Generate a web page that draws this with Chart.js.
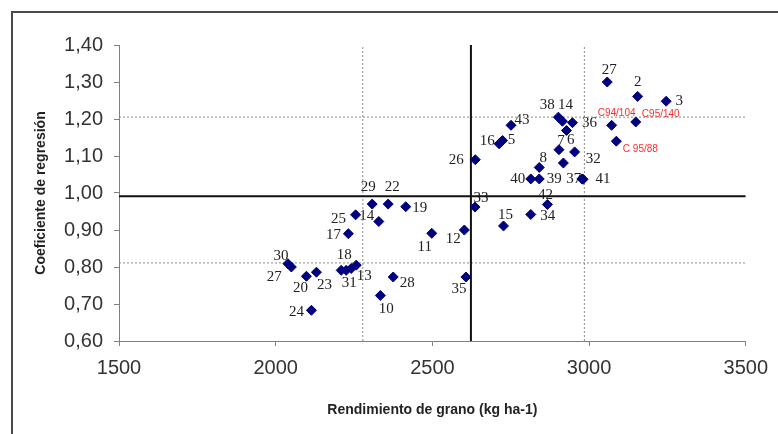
<!DOCTYPE html>
<html>
<head>
<meta charset="utf-8">
<script src="https://cdn.jsdelivr.net/npm/chart.js@4.4.1/dist/chart.umd.min.js"></script>
<style>
  html, body { margin: 0; padding: 0; background: #fff; }
</style>
</head>
<body>
<canvas id="chart" width="778" height="434"></canvas>
<script>
/* ===== DATA ===== */
// genotype ids (empty = point drawn without a tag)
const ids = [
  "29", "22", "19", "25", "14", "17", "11", "12", "33", "30",
  "27", "20", "23", "18", "31", "", "13", "28", "10", "24",
  "35", "27", "2", "3", "38", "14", "36", "", "43", "16",
  "5", "26", "7", "6", "32", "8", "40", "39", "37", "41",
  "42", "34", "15",
];
// grain yield, kg ha-1
const yieldKg = [
  2308, 2359, 2415, 2255, 2329, 2232, 2498, 2602, 2636, 2039,
  2050, 2098, 2130, 2209, 2225, 2241, 2257, 2375, 2334, 2114,
  2607, 3058, 3155, 3246, 2902, 2915, 2947, 2928, 2751, 2713,
  2724, 2637, 2904, 2954, 2918, 2841, 2814, 2841, 2977, 2981,
  2867, 2814, 2727,
];
// regression coefficient
const coef = [
  0.970, 0.970, 0.963, 0.941, 0.923, 0.890, 0.891, 0.900, 0.962, 0.809,
  0.800, 0.775, 0.786, 0.791, 0.791, 0.796, 0.805, 0.773, 0.723, 0.683,
  0.773, 1.300, 1.261, 1.248, 1.205, 1.194, 1.190, 1.169, 1.183, 1.133,
  1.142, 1.090, 1.117, 1.111, 1.081, 1.069, 1.038, 1.038, 1.038, 1.037,
  0.969, 0.942, 0.911,
];

// check varieties
const checkIds = ["C94/104", "C95/140", "C 95/88"];
const checkYield = [3072, 3149, 3087];
const checkCoef = [1.183, 1.192, 1.140];

// mean lines and +/- limits
const meanYield = 2623;
const meanCoef = 0.991;
const limitYield = [2278, 2985];
const limitCoef = [0.811, 1.205];

const X_MIN = 1500, X_MAX = 3500, X_STEP = 500;
const Y_MIN = 0.6, Y_MAX = 1.4, Y_STEP = 0.1;

/* ===== LABEL PLACEMENT (px from the point) ===== */
const idShift = [
  [-4, -17], [4, -17], [14, 1], [-17, 4], [-12, -5], [-15, 1], [-7, 14], [-11, 9], [6, -9], [-7, -8],
  [-17, 10], [-6, 12], [8, 13], [3, -15], [3, 13], [0, 0], [8, 11], [14, 6], [6, 14], [-15, 2],
  [-7, 12], [2, -12], [0, -14], [13, 0], [-11, -12], [3, -16], [17, 0], [0, 0], [11, -5], [-12, -3],
  [9, 0], [-19, 0], [2, -9], [-4, -12], [30, -4], [4, -9], [-13, 0], [15, 0], [-8, 0], [20, 0],
  [-2, -9], [17, 2], [2, -11],
];
const checkShift = [[5, -12], [25, -8], [24, 8]];

/* ===== HELPERS ===== */
function vLine(x, dashed) {
  return {
    type: "line",
    data: [{ x, y: Y_MIN }, { x, y: Y_MAX }],
    borderColor: dashed ? "#8a8a8a" : "#111",
    borderWidth: dashed ? 1 : 2,
    borderDash: dashed ? [2, 2] : [],
    pointRadius: 0,
  };
}
function hLine(y, dashed) {
  return {
    type: "line",
    data: [{ x: X_MIN, y }, { x: X_MAX, y }],
    borderColor: dashed ? "#8a8a8a" : "#111",
    borderWidth: dashed ? 1 : 2,
    borderDash: dashed ? [2, 2] : [],
    pointRadius: 0,
  };
}

/* ===== PLUGINS ===== */
const framePlugin = {
  id: "frame",
  beforeDraw(chart) {
    const c = chart.ctx;
    c.save();
    c.fillStyle = "#fff";
    c.fillRect(0, 0, chart.width, chart.height);
    c.strokeStyle = "#4a4a4a";
    c.lineWidth = 2;
    c.beginPath();
    c.moveTo(12, chart.height);
    c.lineTo(12, 12);
    c.lineTo(chart.width, 12);
    c.stroke();
    c.restore();
  },
};

const tagPlugin = {
  id: "tags",
  beforeDatasetsDraw(chart) {
    const c = chart.ctx;
    const xs = chart.scales.x;
    const ys = chart.scales.y;
    c.save();
    c.textAlign = "center";
    c.textBaseline = "middle";

    c.font = '15px "Liberation Serif", "Times New Roman", serif';
    c.fillStyle = "#222";
    ids.forEach((id, i) => {
      if (!id) return;
      const px = xs.getPixelForValue(yieldKg[i]) + idShift[i][0];
      const py = ys.getPixelForValue(coef[i]) + idShift[i][1];
      c.fillText(id, px, py);
    });

    c.font = '10px "Liberation Sans", Arial, sans-serif';
    c.fillStyle = "#ff2b2b";
    checkIds.forEach((id, i) => {
      const px = xs.getPixelForValue(checkYield[i]) + checkShift[i][0];
      const py = ys.getPixelForValue(checkCoef[i]) + checkShift[i][1];
      c.fillText(id, px, py);
    });
    c.restore();
  },
};

/* ===== CHART ===== */
const points = yieldKg.map((x, i) => ({ x, y: coef[i] }))
  .concat(checkYield.map((x, i) => ({ x, y: checkCoef[i] })));

const tickFont = { family: '"Liberation Sans", Arial, sans-serif', size: 20 };
const titleFont = { family: '"Liberation Sans", Arial, sans-serif', size: 14, weight: "bold" };
const axisGray = "#808080";

new Chart(document.getElementById("chart"), {
  type: "scatter",
  data: {
    datasets: [
      {
        data: points,
        pointStyle: "rectRot",
        pointRadius: 5,
        backgroundColor: "#00007f",
        borderColor: "#00007f",
        borderWidth: 1,
      },
      vLine(meanYield, false),
      hLine(meanCoef, false),
      vLine(limitYield[0], true),
      vLine(limitYield[1], true),
      hLine(limitCoef[0], true),
      hLine(limitCoef[1], true),
    ],
  },
  options: {
    responsive: false,
    animation: false,
    layout: { padding: { top: 45, right: 31, left: 0, bottom: 0 } },
    plugins: { legend: { display: false }, tooltip: { enabled: false } },
    scales: {
      x: {
        type: "linear",
        min: X_MIN,
        max: X_MAX,
        afterFit: (s) => { s.height = 93; },
        ticks: {
          stepSize: X_STEP,
          font: tickFont,
          color: "#333",
          padding: 10,
          callback: (v) => String(v),
        },
        grid: { drawOnChartArea: false, tickLength: 5, color: axisGray },
        border: { color: axisGray, width: 1 },
        title: {
          display: true,
          text: "Rendimiento de grano (kg ha-1)",
          font: titleFont,
          color: "#222",
          padding: { top: 0, bottom: 15 },
        },
      },
      y: {
        min: Y_MIN,
        max: Y_MAX,
        afterFit: (s) => { s.width = 119; },
        ticks: {
          stepSize: Y_STEP,
          font: tickFont,
          color: "#333",
          padding: 11,
          callback: (v) => v.toFixed(2).replace(".", ","),
        },
        grid: { drawOnChartArea: false, tickLength: 5, color: axisGray },
        border: { color: axisGray, width: 1 },
        title: {
          display: true,
          text: "Coeficiente de regresión",
          font: titleFont,
          color: "#222",
          padding: { top: 33, bottom: 0 },
        },
      },
    },
  },
  plugins: [framePlugin, tagPlugin],
});
</script>
</body>
</html>
